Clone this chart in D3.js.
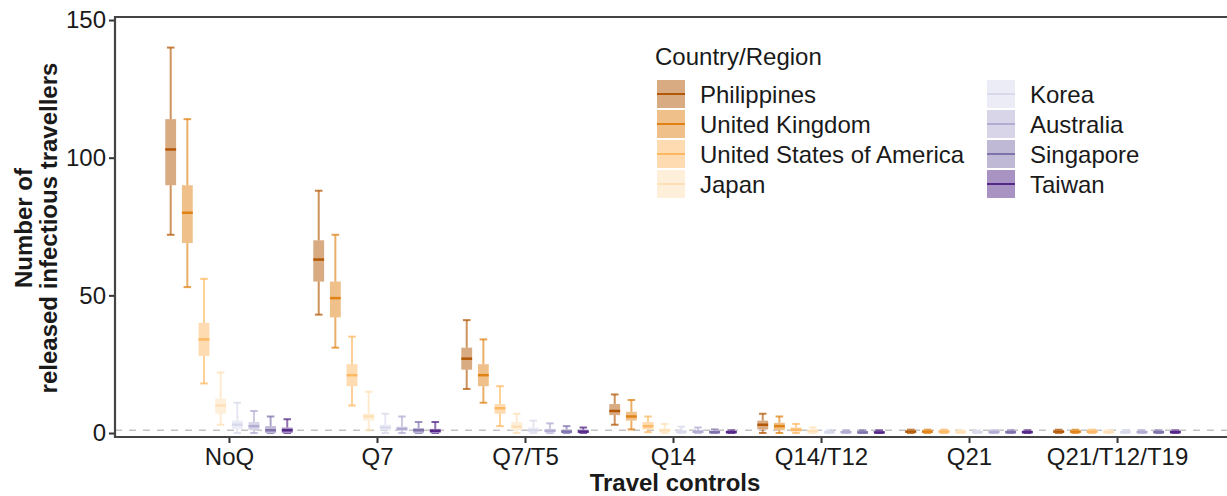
<!DOCTYPE html>
<html>
<head>
<meta charset="utf-8">
<script src="https://cdn.jsdelivr.net/npm/d3@7.9.0/dist/d3.min.js"></script>
<style>
  body { margin: 0; background: #fff; }
  svg text { font-family: "Liberation Sans", Arial, Helvetica, sans-serif; fill: #1a1a1a; }
</style>
</head>
<body>
<svg id="chart" width="1227" height="496"></svg>
<script>
const countries = ['Philippines', 'United Kingdom', 'United States of America', 'Japan',
    'Korea', 'Australia', 'Singapore', 'Taiwan'];
const colors = ['#b35806', '#e08214', '#fdb863', '#fee0b6', '#d8daeb', '#b2abd2', '#8073ac', '#542788'];
const controls = ['NoQ', 'Q7', 'Q7/T5', 'Q14', 'Q14/T12', 'Q21', 'Q21/T12/T19'];
const yTicks = [0, 50, 100, 150];
const threshold = 1;

// [lower whisker, q1, median, q3, upper whisker] per country
const noQ = [[72, 90, 103, 114, 140], [53, 69, 80, 90, 114], [18, 28, 34, 40, 56], [3, 7, 10, 12.5, 22],
    [0, 1.5, 3, 4.5, 11], [0, 1, 2.5, 4, 8], [0, 0, 1, 2.5, 6], [0, 0, 1, 2, 5]];
const q7 = [[43, 55, 63, 70, 88], [31, 42, 49, 55, 72], [10, 17, 21, 25, 35], [1, 4.5, 6, 7, 15],
    [0, 1, 2, 3, 7], [0, 0.8, 1.5, 2.3, 6], [0, 0, 1, 1.8, 4], [0, 0, 0.8, 1.5, 4]];
const q7t5 = [[16, 23, 27, 31, 41], [11, 17, 21, 25, 34], [2.5, 7, 9, 10.5, 17], [0, 1, 2.3, 4, 7],
    [0, 0.3, 1, 2, 4.5], [0, 0.2, 0.8, 1.5, 3.5], [0, 0, 0.5, 1.3, 2.5], [0, 0, 0.5, 1.2, 2]];
const q14 = [[3, 6.5, 8, 10.5, 14], [1.3, 4.5, 6, 7.7, 12], [0.3, 1.3, 2.5, 4, 6], [0, 0.3, 1, 1.5, 3.3],
    [0, 0, 0.5, 1, 2.3], [0, 0, 0.5, 1, 2], [0, 0, 0.3, 0.8, 1.3], [0, 0, 0.3, 0.8, 1]];
const q14t12 = [[0, 1.3, 3, 4.5, 7], [0, 1, 2.5, 3.7, 6], [0, 0.5, 1.2, 2, 3.3], [0, 0, 0.7, 1.3, 2],
    [0, 0, 0.3, 0.7, 1], [0, 0, 0.3, 0.7, 1], [0, 0, 0.2, 0.7, 1], [0, 0, 0.2, 0.7, 1]];
const q21 = [[0, 0, 0.5, 1, 1.2], [0, 0, 0.5, 1, 1.2], [0, 0, 0.5, 1, 1.2], [0, 0, 0.4, 0.9, 1],
    [0, 0, 0.3, 0.8, 1], [0, 0, 0.3, 0.8, 1], [0, 0, 0.3, 0.8, 1], [0, 0, 0.3, 0.8, 1]];
const q21t12t19 = [[0, 0, 0.5, 1, 1.2], [0, 0, 0.5, 1, 1.2], [0, 0, 0.5, 1, 1.2], [0, 0, 0.4, 0.9, 1],
    [0, 0, 0.3, 0.8, 1], [0, 0, 0.3, 0.8, 1], [0, 0, 0.3, 0.8, 1], [0, 0, 0.3, 0.8, 1]];
const stats = [noQ, q7, q7t5, q14, q14t12, q21, q21t12t19];

const svg = d3.select('#chart');
const panelLeft = 115, panelTop = 17, panelBottom = 437, panelRight = 1231;

let x = d3.scalePoint().domain(controls).range([panelLeft, panelRight]).padding(0.77);
let dodge = d3.scaleBand().domain(countries).range([-x.step() * 0.45, x.step() * 0.45]);
let y = d3.scaleLinear().domain([-1.45, 151.1]).range([panelBottom, panelTop]);
let boxW = dodge.bandwidth() * 0.65;
let capW = boxW * 0.7;

// threshold line
svg.append('line')
    .attr('x1', panelLeft).attr('x2', panelRight)
    .attr('y1', y(threshold)).attr('y2', y(threshold))
    .attr('stroke', '#c4c4c4').attr('stroke-width', 1.6)
    .attr('stroke-dasharray', '7,7');

controls.forEach((ctrl, ci) => {
    stats[ci].forEach((s, k) => {
        let cx = x(ctrl) + dodge(countries[k]) + dodge.bandwidth() / 2;
        let g = svg.append('g');
        let col = colors[k];
        // whiskers
        g.append('line').attr('x1', cx).attr('x2', cx).attr('y1', y(s[0])).attr('y2', y(s[4]))
            .attr('stroke', col).attr('stroke-opacity', 0.65).attr('stroke-width', 2);
        [s[0], s[4]].forEach((v) => {
            g.append('line').attr('x1', cx - capW / 2).attr('x2', cx + capW / 2)
                .attr('y1', y(v)).attr('y2', y(v))
                .attr('stroke', col).attr('stroke-opacity', 0.75).attr('stroke-width', 2);
        });
        // box
        g.append('rect')
            .attr('x', cx - boxW / 2).attr('width', boxW)
            .attr('y', y(s[3])).attr('height', Math.max(y(s[1]) - y(s[3]), 1.5))
            .attr('fill', '#fff');
        g.append('rect')
            .attr('x', cx - boxW / 2).attr('width', boxW)
            .attr('y', y(s[3])).attr('height', Math.max(y(s[1]) - y(s[3]), 1.5))
            .attr('fill', col).attr('fill-opacity', 0.5);
        g.append('line').attr('x1', cx - boxW / 2).attr('x2', cx + boxW / 2)
            .attr('y1', y(s[2])).attr('y2', y(s[2]))
            .attr('stroke', col).attr('stroke-width', 2.5);
    });
});

// axes
let yAxis = svg.append('g')
    .attr('transform', `translate(${panelLeft},0)`)
    .call(d3.axisLeft(y).tickValues(yTicks).tickSize(6).tickPadding(3));
let xAxis = svg.append('g')
    .attr('transform', `translate(0,${panelBottom})`)
    .call(d3.axisBottom(x).tickSize(6).tickPadding(5));
[yAxis, xAxis].forEach((a) => {
    a.select('.domain').remove();
    a.selectAll('line').attr('stroke', '#333').attr('stroke-width', 2);
    a.selectAll('text').attr('font-size', 24).style('fill', '#1a1a1a')
        .attr('font-family', '"Liberation Sans", Arial, sans-serif');
});

// panel lines
svg.append('path')
    .attr('d', `M${panelRight},${panelTop}H${panelLeft}V${panelBottom}H${panelRight}`)
    .attr('fill', 'none').attr('stroke', '#444').attr('stroke-width', 2.2);

// axis titles
svg.append('text').attr('x', 675).attr('y', 491).attr('text-anchor', 'middle')
    .attr('font-size', 24).attr('font-weight', 'bold').text('Travel controls');
let yt = svg.append('text').attr('transform', 'translate(0,228) rotate(-90)')
    .attr('text-anchor', 'middle').attr('font-size', 24).attr('font-weight', 'bold');
yt.append('tspan').attr('x', 0).attr('y', 32).text('Number of');
yt.append('tspan').attr('x', 0).attr('y', 57).text('released infectious travellers');

// legend
let legend = svg.append('g');
legend.append('text').attr('x', 655).attr('y', 65).attr('font-size', 24).text('Country/Region');
countries.forEach((c, i) => {
    let col = Math.floor(i / 4), row = i % 4;
    let lx = col === 0 ? 657 : 987;
    let ly = 80 + row * 30;
    legend.append('rect').attr('x', lx).attr('y', ly).attr('width', 28).attr('height', 28)
        .attr('fill', colors[i]).attr('fill-opacity', 0.5);
    legend.append('line').attr('x1', lx).attr('x2', lx + 28).attr('y1', ly + 14).attr('y2', ly + 14)
        .attr('stroke', colors[i]).attr('stroke-width', 2);
    legend.append('text').attr('x', lx + 43).attr('y', ly + 23).attr('font-size', 24).text(c);
});
</script>
</body>
</html>
